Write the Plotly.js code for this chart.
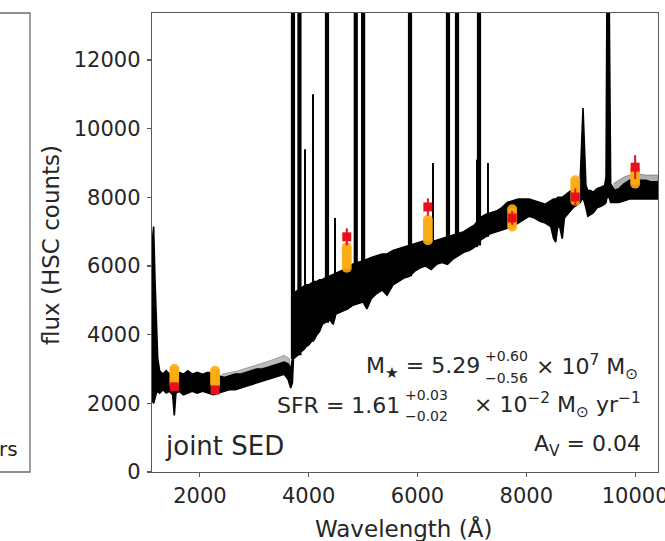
<!DOCTYPE html>
<html>
<head>
<meta charset="utf-8">
<script src="https://cdn.plot.ly/plotly-3.0.1.min.js"></script>
<style>
  html, body { margin: 0; padding: 0; background: #ffffff; }
  #sed { width: 665px; height: 541px; }
</style>
</head>
<body>
<div id="sed"></div>
<script>
// ---- spectrum envelope (wavelength in Angstrom, flux in HSC counts) ----
const specWave = [1120, 1150, 1175, 1200, 1225, 1260, 1320, 1380, 1440, 1500, 1530, 1560, 1620, 1700, 1780, 1860, 1950,
  2050, 2150, 2250, 2350, 2450, 2550, 2650, 2750, 2850, 2950, 3050, 3150, 3250, 3350, 3450, 3550, 3620, 3670,
  3700, 3720, 3760, 3800, 3850, 3900, 3950, 4000, 4050, 4100, 4150, 4200, 4250, 4300, 4380, 4450, 4500, 4575,
  4650, 4720, 4800, 4900, 5000, 5070, 5150, 5250, 5350, 5440, 5550, 5650, 5750, 5850, 5950, 6050, 6150, 6250,
  6350, 6450, 6550, 6650, 6750, 6850, 6950, 7050, 7150, 7250, 7350, 7450, 7550, 7650, 7750, 7850, 7950, 8050,
  8150, 8250, 8350, 8450, 8500, 8540, 8580, 8620, 8660, 8700, 8780, 8860, 8950, 8990, 9042, 9095, 9130, 9180,
  9230, 9300, 9380, 9440, 9465, 9482, 9522, 9550, 9620, 9700, 9800, 9900, 10000, 10100, 10200, 10300, 10420];
const specUpper = [6600, 7150, 5600, 4200, 3300, 2950, 2850, 2950, 2850, 2900, 2850, 2800, 2900, 2850, 2950, 2850, 2900,
  2850, 2900, 2850, 2800, 2750, 2800, 2850, 2850, 2900, 2950, 3000, 3000, 3050, 3100, 3150, 3200, 3150, 3000,
  3300, 5100, 5250, 5300, 5350, 5400, 5450, 5450, 5500, 5550, 5550, 5600, 5600, 5650, 5700, 5750, 5800, 5850,
  5900, 6000, 6050, 6100, 6150, 6200, 6250, 6300, 6350, 6350, 6450, 6500, 6550, 6600, 6650, 6700, 6750, 6700,
  6750, 6800, 6850, 6900, 6950, 7000, 7100, 7200, 7400, 7500, 7550, 7600, 7700, 7850, 7900, 7950, 7950, 7950,
  7900, 7850, 7800, 7900, 7950, 7950, 8000, 8000, 8000, 8050, 8150, 8250, 8450, 8500, 10600, 8350, 8200, 8200,
  8150, 8250, 8300, 8350, 8600, 14000, 14000, 8400, 8200, 8250, 8400, 8500, 8550, 8500, 8500, 8450, 8450];
const specLower = [2100, 2000, 2150, 2300, 2350, 2300, 2400, 2300, 2350, 2250, 1650, 2300, 2350, 2250, 2300, 2350, 2300,
  2350, 2300, 2250, 2300, 2350, 2400, 2400, 2450, 2500, 2550, 2600, 2650, 2700, 2750, 2800, 2850, 2700, 2450,
  2600, 3300, 3350, 3400, 3500, 3550, 3650, 3700, 3800, 3850, 4000, 4100, 4300, 4350, 4450, 4300, 4600, 4650,
  4700, 4750, 4850, 4900, 4950, 4750, 5050, 5200, 5300, 5150, 5450, 5550, 5650, 5700, 5850, 5950, 6000, 5900,
  6050, 6100, 6050, 6200, 6300, 6400, 6450, 6550, 6750, 6850, 6950, 7000, 7050, 7100, 7150, 7250, 7350, 7450,
  7400, 7300, 7250, 7150, 6800, 6700, 7200, 7100, 6800, 7400, 7550, 7700, 7800, 7850, 8000, 7700, 7450, 7500,
  7550, 7700, 7750, 7800, 7850, 8000, 8000, 7850, 7850, 7850, 7900, 7950, 7950, 7950, 7950, 7950, 7950];

// fainter model realisations sitting above the UV continuum and the red end
const fanWave = [2400, 2700, 3000, 3300, 3550, 3650];
const fanUpper = [2850, 2950, 3100, 3250, 3400, 3300];
const fanLower = [2750, 2850, 3000, 3050, 3200, 3000];
const redFanWave = [9600, 9800, 10000, 10200, 10420];
const redFanUpper = [8400, 8600, 8700, 8650, 8650];
const redFanLower = [8200, 8400, 8500, 8450, 8450];

// strong nebular lines running off the top of the panel
const strongLineWave = [3711, 3830, 4336, 4865, 5000, 5862, 6560, 6726, 7130];
const strongLineBase = [3300, 3400, 4350, 4900, 4950, 5700, 6100, 6300, 6600];
const strongLinePeak = [14000, 14000, 14000, 14000, 14000, 14000, 14000, 14000, 14000];
// weaker lines
const weakLineWave = [3932, 4079, 4483, 6284, 7093, 7295];
const weakLineBase = [3600, 3800, 4500, 5950, 6550, 6850];
const weakLinePeak = [9400, 11000, 7400, 9000, 9100, 9000];

// photometry: GALEX FUV, NUV and HSC g r i z y
const photWave = [1530, 2280, 4700, 6190, 7740, 8900, 10000];
const obsFlux = [2480, 2390, 6850, 7720, 7400, 8010, 8880];
const obsErr = [120, 120, 250, 250, 200, 250, 350];
// model photometry samples per band
const modelFlux = [
  [2560, 2650, 2740, 2830, 2920, 3000],
  [2560, 2640, 2720, 2800, 2880, 2950],
  [5950, 6050, 6150, 6250, 6350, 6450, 6550],
  [6750, 6850, 6950, 7050, 7150, 7250, 7350],
  [7150, 7250, 7350, 7450, 7550, 7650],
  [7900, 8000, 8100, 8200, 8300, 8400, 8500],
  [8400, 8500, 8600, 8700, 8800]
];

const waveTicks = [2000, 4000, 6000, 8000, 10000];
const fluxTicks = [0, 2000, 4000, 6000, 8000, 10000, 12000];
const waveRange = [1120, 10420];
const fluxRange = [0, 13370];

// ---- layout geometry (pixels) ----
const L = 152, R = 658, T = 13, B = 472;
const fx = px => (px - L) / (R - L);
const fy = py => (B - py) / (B - T);
const FONT = 'DejaVu Sans, Liberation Sans, sans-serif';
const TXT = '#262626';

function segments(xs, y0s, y1s) {
  const x = [], y = [];
  xs.forEach((w, i) => { x.push(w, w, null); y.push(y0s[i], y1s[i], null); });
  return { x, y };
}
function band(xs, up, lo) {
  return { x: xs.concat(xs.slice().reverse()), y: up.concat(lo.slice().reverse()) };
}

const traces = [];
const fan = band(fanWave, fanUpper, fanLower);
traces.push({ x: fan.x, y: fan.y, type: 'scatter', mode: 'lines', fill: 'toself',
  fillcolor: 'rgba(60,60,60,0.35)', line: { color: 'rgba(60,60,60,0.35)', width: 1 } });
const rfan = band(redFanWave, redFanUpper, redFanLower);
traces.push({ x: rfan.x, y: rfan.y, type: 'scatter', mode: 'lines', fill: 'toself',
  fillcolor: 'rgba(60,60,60,0.4)', line: { color: 'rgba(60,60,60,0.4)', width: 1 } });

const spec = band(specWave, specUpper, specLower);
traces.push({ x: spec.x, y: spec.y, type: 'scatter', mode: 'lines', fill: 'toself',
  fillcolor: '#000000', line: { color: '#000000', width: 1.6 } });

const sl = segments(strongLineWave, strongLineBase, strongLinePeak);
traces.push({ x: sl.x, y: sl.y, type: 'scatter', mode: 'lines', line: { color: '#000000', width: 4.2 } });
const wl = segments(weakLineWave, weakLineBase, weakLinePeak);
traces.push({ x: wl.x, y: wl.y, type: 'scatter', mode: 'lines', line: { color: '#000000', width: 2 } });

// model photometry
const mx = [], my = [];
modelFlux.forEach((arr, i) => arr.forEach(v => { mx.push(photWave[i]); my.push(v); }));
traces.push({ x: mx, y: my, type: 'scatter', mode: 'markers',
  marker: { symbol: 'circle', size: 10, color: 'rgba(252,172,20,0.9)', line: { width: 0 } } });

// observed photometry
traces.push({ x: photWave, y: obsFlux, type: 'scatter', mode: 'markers',
  error_y: { type: 'data', array: obsErr, color: '#e8101a', thickness: 2, width: 0 },
  marker: { symbol: 'square', size: 9, color: '#e8101a', line: { width: 0 } } });

const ann = (text, px, py, size, xanchor, extra) => Object.assign({
  text, x: fx(px), y: fy(py), xref: 'paper', yref: 'paper', showarrow: false,
  xanchor: xanchor || 'center', yanchor: 'middle', font: { family: FONT, size, color: TXT }
}, extra || {});

const annotations = [
  ann('flux (HSC counts)', 51, 245, 23, 'center', { textangle: -90 }),
  ann('Wavelength (Å)', 403, 528, 23, 'center'),
  ann('joint SED', 163, 446, 26, 'left'),
  ann('rs', 20, 449, 20, 'right'),
  ann('M<sub>★</sub> = 5.29', 482, 367, 22, 'right'),
  ann('+0.60', 483, 356, 14, 'left'),
  ann('−0.56', 483, 378, 14, 'left'),
  ann('× 10<sup>7</sup> M<sub>⊙</sub>', 640, 367, 22, 'right'),
  ann('SFR = 1.61', 402, 405, 22, 'right'),
  ann('+0.03', 403, 395, 14, 'left'),
  ann('−0.02', 403, 416, 14, 'left'),
  ann('× 10<sup>−2</sup> M<sub>⊙</sub> yr<sup>−1</sup>', 643, 405, 22, 'right'),
  ann('A<sub>V</sub> = 0.04', 643, 445, 22, 'right')
];

// frame of the neighbouring panel on the left
const shapes = [{
  type: 'path', xref: 'paper', yref: 'paper',
  path: `M ${fx(-4)} ${fy(13)} L ${fx(30)} ${fy(13)} L ${fx(30)} ${fy(472)} L ${fx(-4)} ${fy(472)}`,
  line: { color: '#6a6a6a', width: 1.3 }
}];

const axisCommon = {
  showline: true, mirror: true, linecolor: '#5a5a5a', linewidth: 1.3,
  ticks: 'outside', ticklen: 4, tickwidth: 1.2, tickcolor: '#5a5a5a',
  showgrid: false, zeroline: false, ticklabeloverflow: 'allow',
  tickfont: { family: FONT, size: 21, color: TXT }
};

const layout = {
  width: 665, height: 541,
  margin: { l: L, r: 665 - R, t: T, b: 541 - B },
  paper_bgcolor: '#ffffff', plot_bgcolor: '#ffffff',
  showlegend: false,
  xaxis: Object.assign({}, axisCommon, { range: waveRange, tickvals: waveTicks,
    ticktext: waveTicks.map(String), ticklabelstandoff: 0 }),
  yaxis: Object.assign({}, axisCommon, { range: fluxRange, tickvals: fluxTicks,
    ticktext: fluxTicks.map(String), ticklabelstandoff: 2 }),
  annotations, shapes
};

Plotly.newPlot('sed', traces, layout, { staticPlot: true, displayModeBar: false });
</script>
</body>
</html>
